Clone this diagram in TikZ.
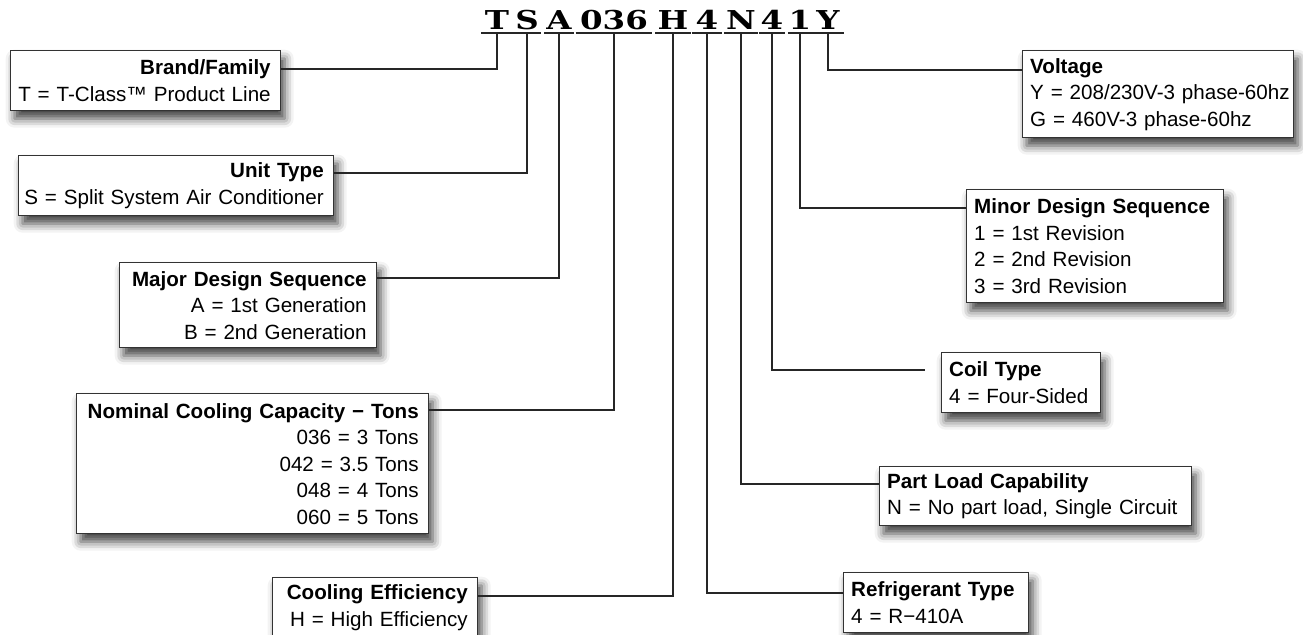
\documentclass[tikz,border=0pt]{standalone}
\usepackage{fontspec}
\setmainfont{Liberation Sans}
\newfontfamily\slabfont[FakeStretch=1.25]{DejaVu Serif}
\usepackage{tikz}
\usetikzlibrary{positioning, shadows.blur}

\begin{document}
\begin{tikzpicture}[x=0.5pt, y=-0.5pt, thick]
    % Styles
    \tikzstyle{letter} = [font=\slabfont\bfseries\fontsize{13}{13}\selectfont, inner xsep=0pt, inner ysep=1.5pt, text height=9.5pt, text depth=0pt, anchor=south]
    \tikzstyle{infobox} = [rectangle, draw=black!80, line width=0.7pt, fill=white, inner xsep=0pt, inner ysep=1pt, anchor=north west, font=\fontsize{10.3}{13.25}\selectfont, blur shadow={shadow xshift=2pt, shadow yshift=-4pt, shadow blur radius=4.5pt, shadow opacity=75}]
    \tikzstyle{leftbox} = [infobox, align=right, execute at begin node={\rightskip=5pt}]
    \tikzstyle{rightbox} = [infobox, align=left, execute at begin node={\leftskip=3.75pt}]
    \tikzstyle{wire} = [draw=black!85, line width=0.9pt]
    \tikzstyle{uline} = [draw=black!85, line width=1.3pt]

    \useasboundingbox (0,0) rectangle (1303,635);

    % Model code
    \node [letter, minimum width=15pt]   (cT)   at (497,33) {T};
    \node [letter, minimum width=13.5pt] (cS)   at (527,33) {S};
    \node [letter, minimum width=14pt]   (cA)   at (559,33) {A};
    \node [letter, minimum width=37.5pt] (cCap) at (614,33) {036};
    \node [letter, minimum width=17pt]   (cH)   at (673,33) {H};
    \node [letter, minimum width=14.5pt] (cRef) at (707,33) {4};
    \node [letter, minimum width=16pt]   (cN)   at (741,33) {N};
    \node [letter, minimum width=12.5pt] (cCoil) at (772,33) {4};
    \node [letter, minimum width=8.5pt]  (cOne) at (800,33) {1};
    \node [letter, minimum width=15pt]   (cY)   at (828,33) {Y};

    \draw [uline] (cT.south west) -- (cT.south east)
                  (cS.south west) -- (cS.south east)
                  (cA.south west) -- (cA.south east)
                  (cCap.south west) -- (cCap.south east)
                  (cH.south west) -- (cH.south east)
                  (cRef.south west) -- (cRef.south east)
                  (cN.south west) -- (cN.south east)
                  (cCoil.south west) -- (cCoil.south east)
                  (cOne.south west) -- (cOne.south east)
                  (cY.south west) -- (cY.south east);

    % Left boxes
    \node [leftbox, text width=135pt, minimum height=30pt] (brand) at (10,50)
        {\textbf{Brand/Family}\\T = T-Class™ Product Line};
    \node [leftbox, text width=157.5pt, minimum height=30pt] (unit) at (18,155)
        {\textbf{Unit Type}\\S = Split System Air Conditioner};
    \node [leftbox, text width=128.5pt, minimum height=42.5pt] (major) at (119,262)
        {\textbf{Major Design Sequence}\\A = 1st Generation\\B = 2nd Generation};
    \node [leftbox, text width=176pt, minimum height=70pt] (tons) at (76,393)
        {\textbf{Nominal Cooling Capacity − Tons}\\036 = 3 Tons\\042 = 3.5 Tons\\048 = 4 Tons\\060 = 5 Tons};
    \node [leftbox, text width=102.5pt, minimum height=30pt] (eff) at (272,577)
        {\textbf{Cooling Efficiency}\\H = High Efficiency};

    % Right boxes
    \node [rightbox, text width=135.5pt, minimum height=43.5pt] (volt) at (1022,50)
        {\textbf{Voltage}\\Y = 208/230V-3 phase-60hz\\G = 460V-3 phase-60hz};
    \node [rightbox, text width=128.5pt, minimum height=56.5pt] (minor) at (966,189)
        {\textbf{Minor Design Sequence}\\1 = 1st Revision\\2 = 2nd Revision\\3 = 3rd Revision};
    \node [rightbox, text width=79.5pt, minimum height=30pt] (coil) at (941,352)
        {\textbf{Coil Type}\\4 = Four-Sided};
    \node [rightbox, text width=156pt, minimum height=29.5pt] (load) at (879,466)
        {\textbf{Part Load Capability}\\N = No part load, Single Circuit};
    \node [rightbox, text width=92.5pt, minimum height=30pt] (refr) at (843,572)
        {\textbf{Refrigerant Type}\\4 = R−410A};

    % Connections
    \draw [wire] (cT.south) |- ([yshift=-9.5pt]brand.north east);
    \draw [wire] (cS.south) |- ([yshift=-9pt]unit.north east);
    \draw [wire] (cA.south) |- ([yshift=-8pt]major.north east);
    \draw [wire] (cCap.south) |- ([yshift=-8.5pt]tons.north east);
    \draw [wire] (cH.south) |- ([yshift=-9.5pt]eff.north east);
    \draw [wire] (cRef.south) |- ([yshift=-10.5pt]refr.north west);
    \draw [wire] (cN.south) |- ([yshift=-9pt]load.north west);
    \draw [wire, shorten >=8pt] (cCoil.south) |- ([yshift=-9pt]coil.north west);
    \draw [wire] (cOne.south) |- ([yshift=-9.5pt]minor.north west);
    \draw [wire] (cY.south) |- ([yshift=-10pt]volt.north west);

\end{tikzpicture}
\end{document}
